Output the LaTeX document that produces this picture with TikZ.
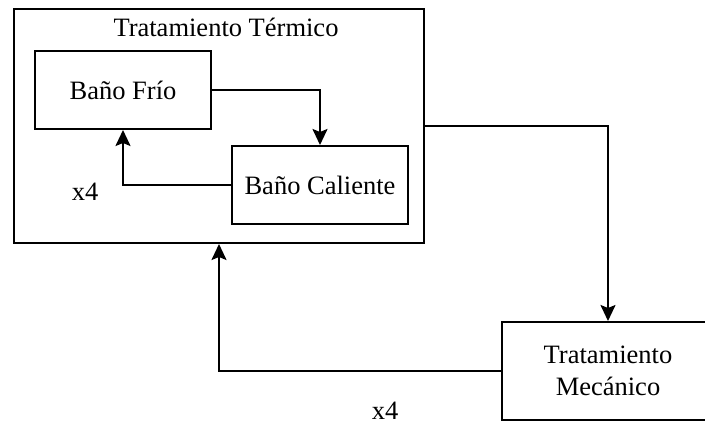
\documentclass[tikz,border=0pt]{standalone}
\usepackage{fontspec}
\setmainfont{Liberation Serif}
\usetikzlibrary{arrows.meta}
\begin{document}
\begin{tikzpicture}[x=1pt,y=-1pt,
  font=\fontsize{26.5}{32}\selectfont,
  box/.style={draw, line width=2pt, rectangle, inner sep=0pt, align=center},
  conn/.style={line width=2pt, -{Stealth[length=16pt,width=15pt,inset=3pt]}}]
\useasboundingbox (0,0) rectangle (705,425);
\node[box, minimum width=410pt, minimum height=234pt] (outer) at (219,126) {};
\node (title) at (226,27) {Tratamiento Térmico};
\node[box, minimum width=176pt, minimum height=78pt] (frio) at (123,90) {Baño Frío};
\node[box, minimum width=176pt, minimum height=78pt] (cal) at (320,185) {Baño Caliente};
\node[box, minimum width=212pt, minimum height=98pt] (mec) at (608,371) {Tratamiento\\Mecánico};
\node (xa) at (85,192) {x4};
\node (xb) at (385,411) {x4};
\draw[conn] (frio.east) -| (cal.north);
\draw[conn] (cal.west) -| (frio.south);
\draw[conn] (outer.east) -| (mec.north);
\draw[conn] (mec.west) -| (outer.south);
\end{tikzpicture}
\end{document}
